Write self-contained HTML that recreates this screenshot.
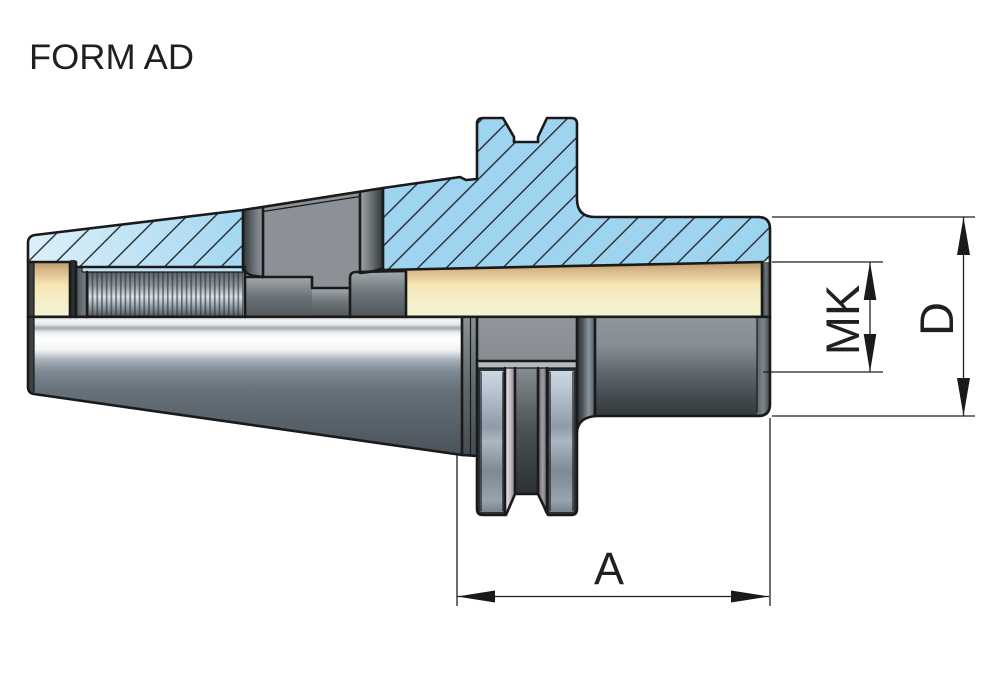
<!DOCTYPE html>
<html><head><meta charset="utf-8">
<style>
html,body{margin:0;padding:0;background:#fff;}
svg{display:block;}
text{font-family:"Liberation Sans",Arial,sans-serif;fill:#231f20;}
</style></head>
<body>
<svg width="1000" height="694" viewBox="0 0 1000 694" xmlns="http://www.w3.org/2000/svg">
<defs>
  <pattern id="hatch" patternUnits="userSpaceOnUse" width="20" height="20" patternTransform="rotate(45)">
    <line x1="5" y1="-2" x2="5" y2="22" stroke="#1c1c1c" stroke-width="1.3"/>
  </pattern>
  <linearGradient id="blueL" gradientUnits="userSpaceOnUse" x1="28" y1="0" x2="250" y2="0">
    <stop offset="0" stop-color="#dcf0f9"/><stop offset="1" stop-color="#a2d6f1"/>
  </linearGradient>
  <linearGradient id="beige" x1="0" y1="0" x2="0" y2="1">
    <stop offset="0" stop-color="#b99a6c"/><stop offset="0.15" stop-color="#d8b888"/>
    <stop offset="0.4" stop-color="#f6e3b3"/><stop offset="0.7" stop-color="#f4efc9"/>
    <stop offset="1" stop-color="#f3f2d3"/>
  </linearGradient>
  <linearGradient id="cone" gradientUnits="userSpaceOnUse" x1="0" y1="317" x2="0" y2="455">
    <stop offset="0" stop-color="#c8cbcd"/><stop offset="0.025" stop-color="#f4f5f6"/>
    <stop offset="0.055" stop-color="#e4e6e8"/><stop offset="0.08" stop-color="#a1a7ac"/>
    <stop offset="0.11" stop-color="#e8eaec"/><stop offset="0.15" stop-color="#ffffff"/>
    <stop offset="0.24" stop-color="#f2f4f6"/><stop offset="0.31" stop-color="#a8b2bb"/>
    <stop offset="0.39" stop-color="#7e8a94"/><stop offset="0.52" stop-color="#67727b"/>
    <stop offset="0.7" stop-color="#5c666e"/><stop offset="1" stop-color="#4a535a"/>
  </linearGradient>
  <linearGradient id="thrg" x1="0" y1="0" x2="0" y2="1">
    <stop offset="0" stop-color="#59636a"/><stop offset="0.3" stop-color="#8d979e"/>
    <stop offset="0.55" stop-color="#dde3e7"/><stop offset="0.75" stop-color="#9aa4ab"/>
    <stop offset="1" stop-color="#4f585e"/>
  </linearGradient>
  <pattern id="thr" patternUnits="userSpaceOnUse" width="4.7" height="60" x="87" y="0">
    <rect x="0" y="0" width="1.7" height="60" fill="#2b3134" opacity="0.6"/>
  </pattern>
  <linearGradient id="stripL" x1="0" y1="0" x2="1" y2="0">
    <stop offset="0" stop-color="#2e3538"/><stop offset="0.6" stop-color="#6f777c"/>
    <stop offset="1" stop-color="#8e959a"/>
  </linearGradient>
  <linearGradient id="stripR" x1="0" y1="0" x2="1" y2="0">
    <stop offset="0" stop-color="#9ea5a9"/><stop offset="0.5" stop-color="#6a7277"/>
    <stop offset="1" stop-color="#2e3538"/>
  </linearGradient>
  <linearGradient id="blk" x1="0" y1="0" x2="0" y2="1">
    <stop offset="0" stop-color="#a3a9ad"/><stop offset="0.5" stop-color="#6b7378"/>
    <stop offset="1" stop-color="#4f575c"/>
  </linearGradient>
  <linearGradient id="relief" x1="0" y1="0" x2="1" y2="0">
    <stop offset="0" stop-color="#4c5459"/><stop offset="1" stop-color="#7c848a"/>
  </linearGradient>
  <linearGradient id="endR" x1="0" y1="0" x2="1" y2="0">
    <stop offset="0" stop-color="#3b4347"/><stop offset="0.5" stop-color="#6c757a"/>
    <stop offset="1" stop-color="#3b4347"/>
  </linearGradient>
  <linearGradient id="ring" gradientUnits="userSpaceOnUse" x1="0" y1="368" x2="0" y2="515">
    <stop offset="0" stop-color="#cfdbe6"/><stop offset="0.15" stop-color="#b8c7d3"/>
    <stop offset="0.4" stop-color="#8e9ca8"/><stop offset="0.5" stop-color="#aab8c4"/>
    <stop offset="0.7" stop-color="#7d8a95"/><stop offset="0.9" stop-color="#96a3ae"/>
    <stop offset="1" stop-color="#6f7a84"/>
  </linearGradient>
  <linearGradient id="flankL" x1="0" y1="0" x2="1" y2="0">
    <stop offset="0" stop-color="#eef1f3"/><stop offset="0.5" stop-color="#c9bcc4"/>
    <stop offset="1" stop-color="#7f8590"/>
  </linearGradient>
  <linearGradient id="flankR" x1="0" y1="0" x2="1" y2="0">
    <stop offset="0" stop-color="#545c61"/><stop offset="0.5" stop-color="#a99ca5"/>
    <stop offset="1" stop-color="#626a70"/>
  </linearGradient>
  <linearGradient id="groove" x1="0" y1="0" x2="0" y2="1">
    <stop offset="0" stop-color="#858d92"/><stop offset="0.5" stop-color="#4a5256"/>
    <stop offset="1" stop-color="#2c3336"/>
  </linearGradient>
  <linearGradient id="flTop" x1="0" y1="0" x2="0" y2="1">
    <stop offset="0" stop-color="#90969b"/><stop offset="1" stop-color="#868c91"/>
  </linearGradient>
  <linearGradient id="fillet" x1="0" y1="0" x2="1" y2="0">
    <stop offset="0" stop-color="#2a3134"/><stop offset="0.3" stop-color="#4a5357"/>
    <stop offset="0.65" stop-color="#8c949a"/><stop offset="1" stop-color="#505a5f"/>
  </linearGradient>
  <linearGradient id="cyl" gradientUnits="userSpaceOnUse" x1="0" y1="317" x2="0" y2="416">
    <stop offset="0" stop-color="#8f969c"/><stop offset="0.3" stop-color="#858c92"/>
    <stop offset="0.55" stop-color="#61696e"/><stop offset="0.8" stop-color="#454c51"/>
    <stop offset="1" stop-color="#33393d"/>
  </linearGradient>
  <linearGradient id="cylEnd" x1="0" y1="0" x2="1" y2="0">
    <stop offset="0" stop-color="#5d666b"/><stop offset="0.5" stop-color="#7e878c"/>
    <stop offset="1" stop-color="#3c4447"/>
  </linearGradient>
  <linearGradient id="sStrip" x1="0" y1="0" x2="0" y2="1">
    <stop offset="0" stop-color="#8a9297"/><stop offset="0.5" stop-color="#5f686d"/>
    <stop offset="1" stop-color="#454d52"/>
  </linearGradient>
</defs>

<!-- Title -->
<text x="29" y="69" font-size="35" textLength="165" lengthAdjust="spacingAndGlyphs">FORM AD</text>

<!-- Hatched section: left cone -->
<path d="M28,262 L28,243 Q28,236 35,235 L243,210 L243,267 L76,267 L76,262 Z" fill="url(#blueL)"/>
<path d="M28,262 L28,243 Q28,236 35,235 L243,210 L243,267 L76,267 L76,262 Z" fill="url(#hatch)"/>

<!-- Hatched section: right body & flange -->
<path d="M383,188 L460,177 L466,180 L477,179 L477,124 Q477,118 483,118 L503,118 L514,137 L514,142 L538,142 L538,137 L547,118 L571,118 Q577,118 577,124 L577,199 Q577,217 595,217 L758,217 Q770,217 770,229 L770,255 Q770,262 762,262 L383,270 Z" fill="#9fd4f1"/>
<path d="M383,188 L460,177 L466,180 L477,179 L477,124 Q477,118 483,118 L503,118 L514,137 L514,142 L538,142 L538,137 L547,118 L571,118 Q577,118 577,124 L577,199 Q577,217 595,217 L758,217 Q770,217 770,229 L770,255 Q770,262 762,262 L383,270 Z" fill="url(#hatch)"/>

<!-- left end strip -->
<rect x="28" y="262" width="6" height="55" fill="#3a4145"/>
<!-- left beige -->
<rect x="34" y="262" width="36" height="55" fill="url(#beige)"/>
<!-- dark collar -->
<rect x="70" y="260" width="6" height="57" rx="1.5" fill="#2a2f32"/>
<!-- relief -->
<rect x="76" y="267" width="11" height="50" fill="url(#relief)"/>
<!-- thin band -->
<rect x="82" y="267" width="163" height="5" fill="#bfe3f5"/>
<!-- thread -->
<rect x="87" y="272" width="158" height="45" fill="url(#thrg)"/>
<rect x="87" y="272" width="158" height="45" fill="url(#thr)"/>

<!-- window (unsectioned) -->
<polygon points="243,210 383,188 383,317 243,317" fill="#8b9196"/>
<polygon points="243,210 263,206.9 263,277 243,270" fill="url(#stripL)"/>
<polygon points="360,191.6 383,188 383,268 360,273" fill="url(#stripR)"/>
<!-- blocks below -->
<rect x="245" y="277" width="67" height="40" fill="url(#blk)"/>
<rect x="312" y="288" width="38" height="29" fill="url(#blk)"/>
<path d="M350,317 L350,278 Q350,272 356,272 L406,271 L406,317 Z" fill="url(#blk)"/>

<!-- right beige bore -->
<path d="M406,269.5 L762,262 L762,317 L406,317 Z" fill="url(#beige)"/>
<rect x="762" y="262" width="8" height="55" fill="url(#endR)"/>

<!-- lower cone exterior -->
<path d="M34,317 L462,317 L462,454 L34,394 Z" fill="url(#cone)"/>
<path d="M28,317 L34,317 L34,394 Q28,393 28,387 Z" fill="#3b4246"/>

<!-- strips between cone and flange -->
<rect x="462" y="317" width="15" height="138" fill="url(#sStrip)"/>

<!-- flange lower -->
<rect x="477" y="317" width="100" height="44" fill="url(#flTop)"/>
<rect x="477" y="361" width="100" height="7" fill="#b4babe"/>
<path d="M477,368 L577,368 L577,509 Q577,515 571,515 L548,515 L538,494 L515,494 L506,515 L483,515 Q477,515 477,509 Z" fill="#2c3336"/>
<rect x="480" y="371" width="24" height="141" rx="2" fill="url(#ring)"/>
<rect x="549" y="371" width="25" height="141" rx="2" fill="url(#ring)"/>
<polygon points="505,368 515,368 515,492 508,513 505,513" fill="url(#flankL)"/>
<polygon points="538,368 547,368 547,513 545,513 538,492" fill="url(#flankR)"/>
<rect x="516" y="368" width="21" height="124" fill="url(#groove)"/>

<!-- fillet strip and cylinder -->
<path d="M577,317 L595,317 L595,416 Q580,418 577,432 Z" fill="url(#fillet)"/>
<path d="M595,317 L770,317 L770,404 Q770,416 758,416 L595,416 Z" fill="url(#cyl)"/>
<path d="M757,317 L770,317 L770,404 Q770,415 760,416 L757,416 Z" fill="url(#cylEnd)"/>

<!-- outlines -->
<g fill="none" stroke="#1a1a1a" stroke-width="2.6" stroke-linejoin="round" stroke-linecap="round">
  <path d="M28,243 Q28,236 35,235 L243,210 L383,188 L460,177 L466,180 L477,179 L477,124 Q477,118 483,118 L503,118 L514,137 L514,142 L538,142 L538,137 L547,118 L571,118 Q577,118 577,124 L577,199 Q577,217 595,217 L758,217 Q770,217 770,229 L770,404 Q770,416 758,416 L597,416 Q578,417 577,432 L577,509 Q577,515 571,515 L548,515 L538,494 L515,494 L506,515 L483,515 Q477,515 477,509 L477,456 L462,455 L34,394 Q28,393 28,387 Z"/>
  <path d="M28,316.8 L770,316.8"/>
  <path d="M243,210 L243,270"/>
  <path d="M28,262 L70,262"/>
  <path d="M76,267 L245,267"/>
  <path d="M70,262 L70,317 M76,262 L76,317 M87,272 L87,317"/>
  <path d="M245,270 L245,317"/>
  <path d="M263,207 L263,277 M360,192 L360,273"/>
  <path d="M383,188 L383,270"/>
  <path d="M383,270 L762,262"/>
  <path d="M245,277 L312,277 L312,288 L350,288"/>
  <path d="M350,317 L350,278 Q350,272 356,272 L406,271 L406,317"/>
  <path d="M243,268 Q246,276 263,277"/>
  <path d="M360,273 Q375,272 383,268"/>
  <path d="M762,262 L762,317"/>
  <path d="M462,317 L462,455 M477,317 L477,456"/>
  <path d="M477,361 L577,361"/>
  <path d="M577,317 L577,432 M595,317 L595,416"/>
  <path d="M505,368 L505,513 M515,368 L515,492 M538,368 L538,492 M547,368 L547,513"/>
</g>
<g fill="none" stroke="#1a1a1a" stroke-width="1.2">
  <path d="M34,262 L34,392"/>
  <path d="M82,267 L82,272 M82,272 L245,272"/>
  <path d="M263,211.5 L360,196.5"/>
  <path d="M470.5,317 L470.5,455"/>
  <path d="M477,368 L577,368"/>
  <path d="M757,317 L757,412"/>
  <path d="M481,372 L481,511 M503,372 L503,511 M550,372 L550,511 M573,372 L573,511"/>
</g>

<!-- dimensions -->
<g stroke="#231f20" stroke-width="1.3" fill="none">
  <path d="M772,217 L975,217 M772,416 L975,416 M963.5,217 L963.5,416"/>
  <path d="M772,262 L883,262 M763,372 L883,372 M870,262 L870,372"/>
  <path d="M457,455 L457,606 M770,418 L770,606 M457,596.5 L769,596.5"/>
</g>
<g fill="#1a1a1a">
  <polygon points="963.5,217 957,255 970,255"/>
  <polygon points="963.5,416 957,378 970,378"/>
  <polygon points="870,262 863.7,300 876.3,300"/>
  <polygon points="870,372 863.7,334 876.3,334"/>
  <polygon points="457,596.5 495,590.5 495,602.5"/>
  <polygon points="769,596.5 731,590.5 731,602.5"/>
</g>

<text x="609" y="584" font-size="45" text-anchor="middle">A</text>
<text transform="translate(859,320) rotate(-90)" x="0" y="0" font-size="47" text-anchor="middle">MK</text>
<text transform="translate(953,319) rotate(-90)" x="0" y="0" font-size="47" text-anchor="middle">D</text>
</svg>
</body></html>
